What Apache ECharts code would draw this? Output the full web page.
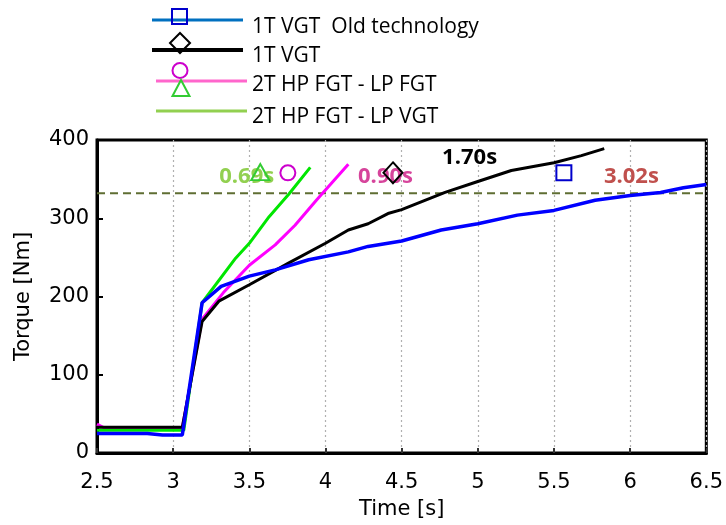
<!DOCTYPE html>
<html>
<head>
<meta charset="utf-8">
<script src="https://cdn.jsdelivr.net/npm/echarts@6/dist/echarts.min.js"></script>
<style>
html,body{margin:0;padding:0;background:#fff;}
#chart{width:726px;height:525px;}
</style>
</head>
<body>
<div id="chart"></div>
<script>
// ---- data ----
const xTicks = [2.5, 3, 3.5, 4, 4.5, 5, 5.5, 6, 6.5];
const yTicks = [0, 100, 200, 300, 400];

const seriesNames = ['1T VGT  Old technology', '1T VGT', '2T HP FGT - LP FGT', '2T HP FGT - LP VGT'];

const timeOld = [2.5, 2.83, 2.93, 3.06, 3.19, 3.315, 3.5, 3.67, 3.89, 4.15, 4.28, 4.5, 4.76, 5.0, 5.26, 5.5, 5.77, 6.0, 6.2, 6.35, 6.5];
const torqueOld = [25, 25, 23, 23, 192, 213, 226, 234, 247, 257, 264, 271, 285, 293, 304, 310, 323, 329, 333, 339, 343];

const time1T = [2.5, 3.06, 3.19, 3.30, 3.5, 3.76, 4.0, 4.15, 4.28, 4.41, 4.5, 4.785, 5.0, 5.22, 5.5, 5.68, 5.83];
const torque1T = [33, 33, 168, 194, 215, 243, 268, 285, 293, 306, 311, 333, 347, 361, 371, 380, 389];

const timeFF = [2.5, 2.55, 3.06, 3.19, 3.33, 3.5, 3.67, 3.8, 3.94, 4.15];
const torqueFF = [37, 32, 32, 171, 205, 240, 266, 291, 323, 369];

const timeFV = [2.5, 3.07, 3.19, 3.41, 3.5, 3.63, 3.76, 3.90];
const torqueFV = [29, 29, 192, 249, 268, 302, 331, 365];

const targetTorque = 332;

// marker points (time, torque)
const markerTimes = [5.565, 4.443, 3.753, 3.572];
const markerTorques = [358, 358, 358, 359];

// annotation texts and anchors
const annotTexts = ['0.69s', '0.90s', '1.70s', '3.02s'];
const annotTimes = [3.483, 4.394, 4.946, 6.008];
const annotTorques = [353, 353, 377, 353];

// ---- styles ----
const lineColors = ['#0000ff', '#000000', '#ff00ff', '#00e600'];
const lineWidths = [3.5, 3, 3, 3];
const markerColors = ['#0000cc', '#000000', '#cc00cc', '#33cc33'];
const markerSymbols = ['rect', 'diamond', 'circle', 'triangle'];
const markerSizes = [[15, 15], [19, 21], [15, 15], [18, 16]];
const annotColors = ['#92d050', '#d6449b', '#000000', '#c0504d'];
const legendLineColors = ['#0070c0', '#000000', '#ff66cc', '#92d050'];

function pairs(xs, ys) { return xs.map((x, i) => [x, ys[i]]); }

const lineSets = [
  [timeOld, torqueOld],
  [time1T, torque1T],
  [timeFF, torqueFF],
  [timeFV, torqueFV]
];
const drawOrder = [2, 3, 1, 0];

const series = [];
drawOrder.forEach((k, idx) => {
  series.push({
    name: seriesNames[k],
    type: 'line',
    data: pairs(lineSets[k][0], lineSets[k][1]),
    showSymbol: false,
    symbol: 'none',
    lineStyle: { color: lineColors[k], width: lineWidths[k] },
    z: 3 + idx,
    animation: false
  });
});

series.push({
  type: 'line',
  data: [[xTicks[0], targetTorque], [xTicks[xTicks.length - 1], targetTorque]],
  symbol: 'none',
  lineStyle: { color: '#5f6e33', width: 2, type: [8, 5] },
  z: 2,
  animation: false
});

series.push({
  type: 'scatter',
  data: annotTexts.map((t, i) => ({
    value: [annotTimes[i], annotTorques[i]],
    name: t,
    label: { color: annotColors[i] }
  })),
  symbolSize: 0,
  itemStyle: { opacity: 1 },
  label: {
    show: true,
    position: 'inside',
    formatter: p => p.name,
    fontFamily: 'Open Sans',
    fontWeight: 'bold',
    fontSize: 22,
    opacity: 1
  },
  z: 8,
  animation: false
});

markerTimes.forEach((t, i) => {
  series.push({
    type: 'scatter',
    data: [[t, markerTorques[i]]],
    symbol: markerSymbols[i],
    symbolSize: markerSizes[i],
    itemStyle: { color: 'rgba(0,0,0,0)', borderColor: markerColors[i], borderWidth: 2, opacity: 1 },
    z: 10,
    animation: false
  });
});

// ---- legend drawn with graphic ----
const legendRows = [20, 50, 81, 111];
const legendLineX = [[152, 243], [152, 243], [156, 247], [156, 247]];
const legendTextY = [27, 56, 85, 117];
const graphic = [];
seriesNames.forEach((n, i) => {
  graphic.push({
    type: 'line',
    shape: { x1: legendLineX[i][0], y1: legendRows[i], x2: legendLineX[i][1], y2: legendRows[i] },
    style: { stroke: legendLineColors[i], lineWidth: i === 1 ? 4 : 3 },
    z: 20
  });
  graphic.push({
    type: 'text',
    style: { text: n, x: 252, y: legendTextY[i], fontFamily: 'Open Sans', fontSize: 21, fill: '#000', verticalAlign: 'middle', align: 'left' },
    z: 20
  });
});
// markers
graphic.push({ type: 'rect', shape: { x: 172, y: 9, width: 15, height: 15 }, style: { fill: 'none', stroke: markerColors[0], lineWidth: 2 }, z: 21 });
graphic.push({ type: 'polygon', shape: { points: [[180, 33], [190, 43], [180, 53], [170, 43]] }, style: { fill: 'none', stroke: markerColors[1], lineWidth: 2 }, z: 21 });
graphic.push({ type: 'circle', shape: { cx: 180, cy: 70.5, r: 7.5 }, style: { fill: 'none', stroke: markerColors[2], lineWidth: 2 }, z: 21 });
graphic.push({ type: 'polygon', shape: { points: [[181, 80], [189.5, 96], [172.5, 96]] }, style: { fill: 'none', stroke: markerColors[3], lineWidth: 2 }, z: 21 });

const chart = echarts.init(document.getElementById('chart'));
chart.setOption({
  animation: false,
  backgroundColor: '#fff',
  grid: { left: 97, right: 17, top: 140, bottom: 70, show: true, borderColor: '#000', borderWidth: 3, backgroundColor: 'transparent' },
  xAxis: {
    type: 'value',
    min: xTicks[0], max: xTicks[xTicks.length - 1], interval: 0.5,
    name: 'Time [s]', nameLocation: 'middle', nameGap: 46,
    nameTextStyle: { fontFamily: 'DejaVu Sans', fontSize: 21, color: '#000' },
    axisLine: { show: true, lineStyle: { color: '#000', width: 3 } },
    axisTick: { show: true, inside: true, length: 5, lineStyle: { color: '#333', width: 2 } },
    axisLabel: { fontFamily: 'DejaVu Sans', fontSize: 21, color: '#000', margin: 19 },
    splitLine: { show: true, lineStyle: { color: '#b0b0b0', width: 1.2, type: [2, 3] } }
  },
  yAxis: {
    type: 'value',
    min: yTicks[0], max: yTicks[yTicks.length - 1], interval: 100,
    name: 'Torque [Nm]', nameLocation: 'middle', nameGap: 63,
    nameTextStyle: { fontFamily: 'DejaVu Sans', fontSize: 21, color: '#000' },
    axisLine: { show: true, lineStyle: { color: '#000', width: 3 } },
    axisTick: { show: true, inside: true, length: 6, lineStyle: { color: '#000', width: 2 } },
    axisLabel: { fontFamily: 'DejaVu Sans', fontSize: 21, color: '#000', margin: 8 },
    splitLine: { show: false }
  },
  series: series,
  graphic: graphic
});
</script>
</body>
</html>
